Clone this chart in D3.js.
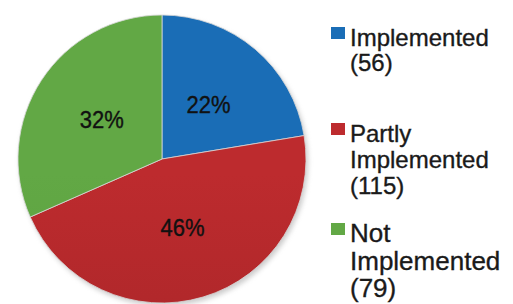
<!DOCTYPE html>
<html>
<head>
<meta charset="utf-8">
<script src="https://cdn.jsdelivr.net/npm/d3@7"></script>
<style>
  body { margin: 0; background: #fff; }
  svg { display: block; font-family: "Liberation Sans", Arial, Helvetica, sans-serif; }
</style>
</head>
<body>
<svg id="chart" width="513" height="304"></svg>
<script>
var categories = ["Implemented", "Partly Implemented", "Not Implemented"];
var counts = [56, 115, 79];
var percentLabels = ["22%", "46%", "32%"];
var legendLines = [["Implemented", "(56)"], ["Partly", "Implemented", "(115)"], ["Not", "Implemented", "(79)"]];
var colors = ["#1a6db6", "#bd2b2e", "#62a845"];
var darkColors = ["#1763ab", "#a32427", "#579c3c"];

var svg = d3.select("#chart");
var cx = 162, cy = 159, radius = 144;

var defs = svg.append("defs");
colors.forEach(function (c, i) {
    var grad = defs.append("linearGradient")
        .attr("id", "grad" + i)
        .attr("gradientUnits", "userSpaceOnUse")
        .attr("x1", 0).attr("y1", cy - radius)
        .attr("x2", 0).attr("y2", cy + radius);
    grad.append("stop").attr("offset", "0%").attr("stop-color", c);
    grad.append("stop").attr("offset", "100%").attr("stop-color", darkColors[i]);
});
var shadow = defs.append("filter").attr("id", "shadow")
    .attr("x", "-10%").attr("y", "-10%").attr("width", "120%").attr("height", "120%");
shadow.append("feGaussianBlur").attr("stdDeviation", 2.5);

var pie = d3.pie().sort(null).value(function (d) { return d; });
var arc = d3.arc().innerRadius(0).outerRadius(radius);
var labelArc = d3.arc().innerRadius(72).outerRadius(72);

var g = svg.append("g")
    .attr("transform", "translate(" + cx + "," + cy + ")");

g.append("circle")
    .attr("cx", 2).attr("cy", 3)
    .attr("r", radius)
    .attr("fill", "#999")
    .attr("opacity", 0.5)
    .attr("filter", "url(#shadow)");

var arcs = pie(counts);

g.selectAll(".slice")
    .data(arcs)
    .enter().append("path")
    .attr("class", "slice")
    .attr("d", arc)
    .attr("fill", function (d, i) { return "url(#grad" + i + ")"; })
    .attr("stroke", "#d8d8d8")
    .attr("stroke-width", 0.8);

g.selectAll(".pct")
    .data(arcs)
    .enter().append("text")
    .attr("class", "pct")
    .attr("transform", function (d) { return "translate(" + labelArc.centroid(d) + ") scale(1,1.06)"; })
    .attr("text-anchor", "middle")
    .attr("dy", "0.36em")
    .attr("font-size", "22px")
    .attr("fill", "#111")
    .attr("stroke", "#111")
    .attr("stroke-width", 0.35)
    .text(function (d, i) { return percentLabels[i]; });

// legend
var legendTop = [27, 123, 223];
var legendSize = [24, 24, 26];
var legendLead = [25, 26, 27.5];

var legend = svg.append("g");
categories.forEach(function (cat, i) {
    var item = legend.append("g")
        .attr("transform", "translate(331," + legendTop[i] + ")");
    item.append("rect")
        .attr("width", 14).attr("height", 12)
        .attr("fill", colors[i]);
    var t = item.append("text")
        .attr("x", 19)
        .attr("y", 19)
        .attr("font-size", legendSize[i] + "px")
        .attr("fill", "#1a1a1a")
        .attr("stroke", "#1a1a1a")
        .attr("stroke-width", 0.35);
    legendLines[i].forEach(function (line, j) {
        t.append("tspan")
            .attr("x", 19)
            .attr("y", 19 + j * legendLead[i])
            .text(line);
    });
});
</script>
</body>
</html>
